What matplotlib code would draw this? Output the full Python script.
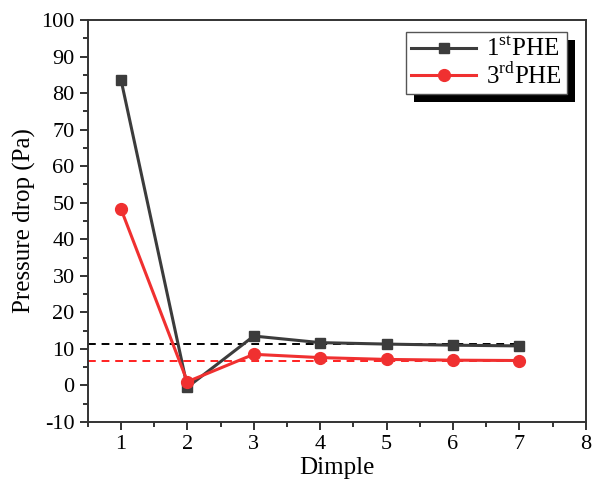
import matplotlib
matplotlib.use('Agg')
import matplotlib.pyplot as plt
from matplotlib.ticker import MultipleLocator
from matplotlib.patches import Rectangle

plt.rcParams['font.family'] = ['Liberation Serif', 'DejaVu Serif']
plt.rcParams['mathtext.fontset'] = 'custom'
plt.rcParams['mathtext.rm'] = 'Liberation Serif'
plt.rcParams['axes.unicode_minus'] = False

dimple = [1, 2, 3, 4, 5, 6, 7]
phe1 = [83.7, -0.5, 13.5, 11.7, 11.3, 11.0, 10.8]
phe3 = [48.3, 1.0, 8.5, 7.6, 7.1, 6.9, 6.8]
avg1 = 11.4
avg3 = 6.8

fig, ax = plt.subplots(figsize=(5.93, 4.90), dpi=100)
fig.subplots_adjust(left=0.148, right=0.988, top=0.959, bottom=0.139)

ax.plot([0.5, 7], [avg1, avg1], '--', color='black', lw=1.4, dashes=(4, 3))
ax.plot([0.5, 7], [avg3, avg3], '--', color='#ff2020', lw=1.4, dashes=(4, 3))
ax.plot(dimple, phe1, '-s', color='#3c3c3c', lw=2.2, ms=7.5, label=r'1$^{\rm st}$PHE')
ax.plot(dimple, phe3, '-o', color='#f03030', lw=2.2, ms=8.5, label=r'3$^{\rm rd}$PHE')

ax.set_xlim(0.5, 8)
ax.set_ylim(-10, 100)
ax.xaxis.set_major_locator(MultipleLocator(1))
ax.xaxis.set_minor_locator(MultipleLocator(0.5))
ax.yaxis.set_major_locator(MultipleLocator(10))
ax.yaxis.set_minor_locator(MultipleLocator(5))
ax.tick_params(which='both', direction='out', top=False, right=False, width=1.4,
               color='#333333')
ax.tick_params(which='major', length=6, labelsize=16)
ax.tick_params(which='minor', length=3.5)
for s in ax.spines.values():
    s.set_linewidth(1.4)
    s.set_color('#333333')

ax.set_xlabel('Dimple', fontsize=18, labelpad=2)
ax.set_ylabel('Pressure drop (Pa)', fontsize=18, labelpad=4)

leg = ax.legend(loc='upper right', fontsize=18, fancybox=False, edgecolor='#555555',
                handlelength=2.6, borderaxespad=0, bbox_to_anchor=(0.962, 0.970),
                borderpad=0.2, labelspacing=0.05, handletextpad=0.4, framealpha=1)
leg.get_frame().set_linewidth(1.0)
leg.set_zorder(6)

# offset black shadow behind legend box
fig.canvas.draw()
bb = leg.get_window_extent().transformed(fig.transFigure.inverted())
dx, dy = 8 / 593, 8 / 490
ax.add_patch(Rectangle((bb.x0 + dx, bb.y0 - dy), bb.width, bb.height,
                       transform=fig.transFigure, facecolor='black',
                       edgecolor='none', clip_on=False, zorder=5.5))

fig.savefig('out.png')
